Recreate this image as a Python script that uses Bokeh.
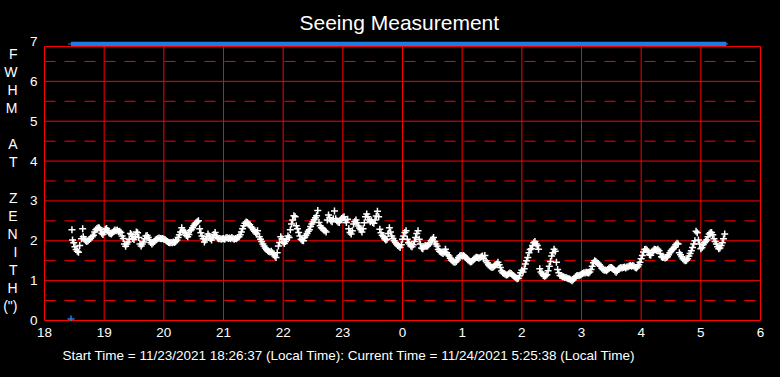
from bokeh.plotting import figure
from bokeh.models import Range1d, FixedTicker, LinearAxis, Title
from bokeh.embed import file_html
from bokeh.resources import INLINE

# ---------------- data ----------------
hour_ticks = [18, 19, 20, 21, 22, 23, 24, 25, 26, 27, 28, 29, 30]
hour_labels = ["18", "19", "20", "21", "22", "23", "0", "1", "2", "3", "4", "5", "6"]
fwhm_ticks = [0, 1, 2, 3, 4, 5, 6, 7]
fwhm_half = [0.5, 1.5, 2.5, 3.5, 4.5, 5.5, 6.5]

start_hour = 18.4436   # 18:26:37
end_hour = 29.4272     # 05:25:38 next day

hours = [
    18.46, 18.47, 18.49, 18.51, 18.53, 18.55, 18.57, 18.59, 18.62, 18.64, 18.65, 18.67, 18.69, 18.71,
    18.73, 18.75, 18.77, 18.80, 18.82, 18.84, 18.86, 18.88, 18.90, 18.92, 18.94, 18.96, 18.98, 19.00,
    19.02, 19.04, 19.06, 19.08, 19.10, 19.12, 19.14, 19.16, 19.18, 19.20, 19.22, 19.24, 19.26, 19.28,
    19.30, 19.32, 19.34, 19.36, 19.38, 19.40, 19.42, 19.44, 19.46, 19.48, 19.50, 19.52, 19.54, 19.56,
    19.58, 19.60, 19.62, 19.64, 19.66, 19.68, 19.70, 19.72, 19.74, 19.76, 19.78, 19.80, 19.82, 19.84,
    19.86, 19.88, 19.90, 19.92, 19.94, 19.96, 19.98, 20.00, 20.02, 20.04, 20.06, 20.08, 20.10, 20.12,
    20.14, 20.16, 20.18, 20.20, 20.22, 20.24, 20.26, 20.28, 20.30, 20.32, 20.34, 20.36, 20.38, 20.40,
    20.42, 20.44, 20.46, 20.48, 20.50, 20.52, 20.54, 20.56, 20.58, 20.60, 20.62, 20.64, 20.66, 20.68,
    20.70, 20.72, 20.74, 20.76, 20.78, 20.80, 20.82, 20.84, 20.86, 20.88, 20.90, 20.92, 20.94, 20.96,
    20.98, 21.00, 21.02, 21.04, 21.06, 21.08, 21.10, 21.12, 21.14, 21.16, 21.18, 21.20, 21.22, 21.24,
    21.26, 21.28, 21.30, 21.32, 21.34, 21.36, 21.38, 21.40, 21.42, 21.44, 21.46, 21.48, 21.50, 21.52,
    21.54, 21.56, 21.57, 21.60, 21.62, 21.64, 21.66, 21.68, 21.70, 21.72, 21.74, 21.76, 21.78, 21.80,
    21.82, 21.84, 21.86, 21.88, 21.90, 21.92, 21.94, 21.96, 21.98, 22.00, 22.02, 22.04, 22.06, 22.08,
    22.10, 22.12, 22.14, 22.16, 22.18, 22.20, 22.22, 22.24, 22.26, 22.28, 22.30, 22.32, 22.34, 22.36,
    22.38, 22.40, 22.42, 22.44, 22.46, 22.48, 22.50, 22.52, 22.54, 22.56, 22.58, 22.60, 22.62, 22.64,
    22.66, 22.68, 22.70, 22.72, 22.74, 22.76, 22.78, 22.80, 22.82, 22.84, 22.86, 22.88, 22.90, 22.92,
    22.94, 22.96, 22.98, 23.00, 23.02, 23.04, 23.06, 23.08, 23.10, 23.12, 23.14, 23.16, 23.18, 23.20,
    23.22, 23.24, 23.26, 23.28, 23.30, 23.32, 23.34, 23.36, 23.38, 23.40, 23.42, 23.44, 23.46, 23.48,
    23.50, 23.52, 23.54, 23.56, 23.58, 23.60, 23.62, 23.64, 23.66, 23.68, 23.70, 23.72, 23.74, 23.76,
    23.78, 23.80, 23.82, 23.84, 23.86, 23.88, 23.90, 23.92, 23.94, 23.96, 23.98, 24.00, 24.02, 24.04,
    24.06, 24.08, 24.10, 24.12, 24.14, 24.16, 24.18, 24.20, 24.22, 24.24, 24.26, 24.28, 24.30, 24.32,
    24.34, 24.36, 24.38, 24.40, 24.42, 24.44, 24.46, 24.48, 24.50, 24.52, 24.54, 24.56, 24.58, 24.60,
    24.62, 24.64, 24.66, 24.68, 24.70, 24.72, 24.74, 24.76, 24.78, 24.80, 24.82, 24.84, 24.86, 24.88,
    24.90, 24.92, 24.94, 24.96, 24.98, 25.00, 25.02, 25.04, 25.06, 25.08, 25.10, 25.12, 25.14, 25.16,
    25.18, 25.20, 25.22, 25.24, 25.26, 25.28, 25.30, 25.32, 25.34, 25.36, 25.38, 25.40, 25.42, 25.44,
    25.46, 25.48, 25.50, 25.52, 25.54, 25.56, 25.58, 25.60, 25.62, 25.64, 25.66, 25.68, 25.70, 25.72,
    25.74, 25.76, 25.78, 25.80, 25.82, 25.84, 25.86, 25.88, 25.90, 25.92, 25.94, 25.96, 25.98, 26.00,
    26.02, 26.04, 26.06, 26.08, 26.10, 26.12, 26.14, 26.16, 26.18, 26.20, 26.22, 26.24, 26.26, 26.28,
    26.30, 26.32, 26.34, 26.36, 26.38, 26.40, 26.42, 26.44, 26.46, 26.48, 26.50, 26.52, 26.54, 26.56,
    26.58, 26.60, 26.62, 26.64, 26.66, 26.68, 26.70, 26.72, 26.74, 26.76, 26.78, 26.80, 26.82, 26.84,
    26.86, 26.88, 26.90, 26.92, 26.94, 26.96, 26.98, 27.00, 27.02, 27.04, 27.06, 27.08, 27.10, 27.12,
    27.14, 27.16, 27.18, 27.20, 27.22, 27.24, 27.26, 27.28, 27.30, 27.32, 27.34, 27.36, 27.38, 27.40,
    27.42, 27.44, 27.46, 27.48, 27.50, 27.52, 27.54, 27.56, 27.58, 27.60, 27.62, 27.64, 27.66, 27.68,
    27.70, 27.72, 27.74, 27.76, 27.78, 27.80, 27.82, 27.84, 27.86, 27.88, 27.90, 27.92, 27.94, 27.96,
    27.98, 28.00, 28.02, 28.04, 28.06, 28.08, 28.10, 28.12, 28.14, 28.16, 28.18, 28.20, 28.22, 28.24,
    28.26, 28.28, 28.30, 28.32, 28.34, 28.36, 28.38, 28.40, 28.42, 28.44, 28.46, 28.48, 28.50, 28.52,
    28.54, 28.56, 28.58, 28.60, 28.62, 28.64, 28.66, 28.68, 28.70, 28.72, 28.74, 28.76, 28.78, 28.80,
    28.82, 28.84, 28.86, 28.88, 28.90, 28.92, 28.94, 28.96, 28.98, 29.00, 29.02, 29.04, 29.06, 29.08,
    29.10, 29.12, 29.14, 29.16, 29.18, 29.20, 29.22, 29.24, 29.26, 29.28, 29.30, 29.32, 29.34, 29.36,
    29.38, 29.40,
]

fwhm = [
    2.28, 2.02, 1.95, 1.85, 1.78, 1.74, 1.71, 1.88, 2.05, 2.30, 2.10, 2.04, 2.00, 1.98,
    2.00, 2.03, 2.06, 2.10, 2.14, 2.22, 2.28, 2.31, 2.33, 2.32, 2.28, 2.19, 2.16, 2.22,
    2.29, 2.31, 2.26, 2.20, 2.18, 2.17, 2.20, 2.24, 2.27, 2.25, 2.27, 2.23, 2.24, 2.21,
    2.12, 2.06, 1.92, 1.86, 1.92, 1.97, 2.04, 2.18, 2.15, 2.06, 2.03, 2.10, 2.22, 2.20,
    2.08, 1.92, 1.87, 1.92, 1.97, 2.05, 2.12, 2.13, 2.08, 2.02, 1.96, 1.92, 1.95, 1.98,
    2.02, 2.04, 2.06, 2.07, 2.06, 2.05, 2.06, 2.04, 2.03, 2.00, 1.98, 1.96, 1.95, 1.96,
    1.95, 1.97, 1.96, 1.98, 2.02, 2.08, 2.15, 2.22, 2.33, 2.26, 2.22, 2.20, 2.13, 2.10,
    2.16, 2.25, 2.28, 2.33, 2.38, 2.42, 2.45, 2.48, 2.50, 2.30, 2.20, 2.12, 2.05, 1.97,
    2.02, 2.10, 2.17, 2.12, 2.06, 2.02, 2.08, 2.16, 2.21, 2.12, 2.07, 2.05, 2.06, 2.04,
    2.05, 2.06, 2.04, 2.07, 2.08, 2.06, 2.07, 2.05, 2.08, 2.06, 2.04, 2.06, 2.05, 2.08,
    2.10, 2.15, 2.22, 2.30, 2.38, 2.44, 2.47, 2.46, 2.43, 2.40, 2.35, 2.32, 2.28, 2.24,
    2.20, 2.17, 2.25, 2.10, 2.04, 1.98, 1.92, 1.87, 1.82, 1.78, 1.75, 1.73, 1.72, 1.74,
    1.70, 1.66, 1.62, 1.58, 1.70, 1.87, 1.96, 2.10, 2.05, 1.97, 1.93, 1.98, 2.04, 2.12,
    2.08, 2.28, 2.42, 2.52, 2.63, 2.60, 2.38, 2.30, 2.21, 2.12, 2.04, 2.01, 2.00, 2.08,
    2.13, 2.18, 2.24, 2.28, 2.36, 2.42, 2.47, 2.53, 2.58, 2.63, 2.76, 2.46, 2.38, 2.33,
    2.30, 2.27, 2.25, 2.22, 2.52, 2.65, 2.58, 2.50, 2.48, 2.55, 2.75, 2.55, 2.50, 2.47,
    2.46, 2.52, 2.56, 2.58, 2.60, 2.52, 2.46, 2.54, 2.30, 2.21, 2.17, 2.25, 2.42, 2.48,
    2.52, 2.45, 2.37, 2.32, 2.28, 2.22, 2.30, 2.45, 2.60, 2.67, 2.60, 2.52, 2.48, 2.50,
    2.46, 2.44, 2.52, 2.62, 2.74, 2.60, 2.29, 2.20, 2.14, 2.10, 2.05, 2.02, 2.04, 2.18,
    2.33, 2.22, 2.12, 2.06, 2.00, 1.96, 1.92, 1.88, 1.86, 1.83, 1.90, 2.04, 2.12, 2.21,
    2.25, 2.04, 1.95, 1.92, 1.87, 1.85, 1.90, 1.98, 2.08, 2.18, 2.25, 2.04, 1.92, 1.82,
    1.80, 1.85, 1.88, 1.86, 1.87, 1.90, 1.95, 2.00, 2.04, 2.08, 1.98, 1.92, 1.87, 1.78,
    1.74, 1.72, 1.70, 1.68, 1.72, 1.79, 1.70, 1.65, 1.62, 1.56, 1.52, 1.49, 1.47, 1.46,
    1.48, 1.52, 1.58, 1.62, 1.63, 1.62, 1.63, 1.61, 1.58, 1.55, 1.52, 1.49, 1.47, 1.48,
    1.51, 1.54, 1.57, 1.59, 1.58, 1.56, 1.58, 1.60, 1.62, 1.55, 1.63, 1.50, 1.45, 1.40,
    1.37, 1.35, 1.33, 1.34, 1.37, 1.39, 1.42, 1.46, 1.40, 1.33, 1.24, 1.20, 1.18, 1.16,
    1.14, 1.15, 1.17, 1.19, 1.18, 1.15, 1.12, 1.10, 1.07, 1.05, 1.06, 1.12, 1.20, 1.26,
    1.22, 1.30, 1.42, 1.50, 1.58, 1.70, 1.78, 1.80, 1.88, 1.95, 1.98, 1.92, 1.88, 1.79,
    1.30, 1.22, 1.17, 1.13, 1.11, 1.12, 1.15, 1.25, 1.36, 1.48, 1.62, 1.70, 1.79, 1.74,
    1.46, 1.28, 1.20, 1.13, 1.12, 1.10, 1.10, 1.08, 1.08, 1.06, 1.05, 1.04, 1.02, 1.00,
    1.02, 1.06, 1.10, 1.12, 1.13, 1.12, 1.14, 1.16, 1.18, 1.20, 1.19, 1.21, 1.20, 1.19,
    1.22, 1.28, 1.36, 1.45, 1.50, 1.48, 1.45, 1.43, 1.40, 1.36, 1.31, 1.28, 1.26, 1.27,
    1.25, 1.28, 1.31, 1.33, 1.33, 1.31, 1.28, 1.24, 1.21, 1.25, 1.29, 1.31, 1.33, 1.32,
    1.33, 1.34, 1.32, 1.34, 1.35, 1.37, 1.38, 1.36, 1.38, 1.36, 1.33, 1.32, 1.35, 1.40,
    1.46, 1.55, 1.63, 1.72, 1.78, 1.79, 1.76, 1.72, 1.65, 1.64, 1.70, 1.75, 1.79, 1.78,
    1.76, 1.79, 1.75, 1.68, 1.60, 1.58, 1.59, 1.57, 1.58, 1.60, 1.65, 1.70, 1.75, 1.79,
    1.80, 1.84, 1.90, 1.94, 1.92, 1.70, 1.65, 1.60, 1.55, 1.52, 1.50, 1.51, 1.55, 1.62,
    1.68, 1.75, 1.83, 1.92, 2.00, 2.24, 2.20, 2.02, 1.92, 1.80, 1.83, 1.90, 1.96, 1.98,
    2.02, 2.10, 2.17, 2.20, 2.21, 2.15, 2.05, 1.98, 1.92, 1.85, 1.80, 1.82, 1.88, 1.95,
    2.05, 2.17,
]

first_hour = [18.444]
first_fwhm = [0.04]

title_text = "Seeing Measurement"
ylabel_letters = ["F", "W", "H", "M", "A", "T", "Z", "E", "N", "I", "T", "H", '(")']
ylabel_rows = [0, 1, 2, 3, 5, 6, 8, 9, 10, 11, 12, 13, 14]
footer_text = "Start Time = 11/23/2021 18:26:37 (Local Time): Current Time = 11/24/2021 5:25:38 (Local Time)"

# ---------------- layout / style ----------------
W, H = 780, 377
L, T = 39, 40
FRAME_W, FRAME_H = 722, 281
PX_X, PX_Y = 60.0, 40.0          # pixels per hour / per arcsec
x0 = 18 - 1.0 / PX_X
x1 = x0 + FRAME_W / PX_X
y0 = -1.0 / PX_Y
y1 = y0 + FRAME_H / PX_Y
frame_top = 6.875
RED = "#FF0000"
BLUE = "#1A7FE8"
FONT = "Liberation Sans"


def vy(cy):
    return y1 - (cy - T) / PX_Y


p = figure(width=W, height=H, output_backend="svg", toolbar_location=None,
           title=title_text,
           x_range=Range1d(x0, x1), y_range=Range1d(y0, y1),
           min_border_left=L, min_border_right=W - L - FRAME_W,
           min_border_top=T, min_border_bottom=H - T - FRAME_H,
           background_fill_color="black", border_fill_color="black",
           outline_line_color=None)
p.grid.visible = False

p.title.align = "left"
p.title.offset = 256
p.title.text_color = "white"
p.title.text_font = FONT
p.title.text_font_size = "21px"
p.title.text_font_style = "normal"
p.title.standoff = 16


def style_axis(ax, size):
    ax.axis_line_color = None
    ax.major_tick_line_color = None
    ax.minor_tick_line_color = None
    ax.major_tick_out = 0
    ax.major_tick_in = 0
    ax.minor_tick_out = 0
    ax.minor_tick_in = 0
    ax.major_label_text_color = "white"
    ax.major_label_text_font = FONT
    ax.major_label_text_font_size = size


style_axis(p.xaxis[0], "13.5px")
style_axis(p.yaxis[0], "13.5px")
p.xaxis.ticker = FixedTicker(ticks=hour_ticks)
p.xaxis.major_label_overrides = {t: lab for t, lab in zip(hour_ticks, hour_labels)}
p.xaxis.major_label_standoff = 6
p.yaxis.ticker = FixedTicker(ticks=fwhm_ticks)
p.yaxis.major_label_standoff = 6

# stacked letters of the y title, as an outer axis
letter_pos = [vy(53 + 18 * r) for r in ylabel_rows]
letter_axis = LinearAxis(ticker=FixedTicker(ticks=letter_pos),
                         major_label_overrides={pos: ch for pos, ch in zip(letter_pos, ylabel_letters)})
style_axis(letter_axis, "14px")
letter_axis.major_label_standoff = 9
p.add_layout(letter_axis, "left")

# footer text
footer = Title(text=footer_text, align="left", offset=19, text_color="white", text_font=FONT,
               text_font_size="13.5px", text_font_style="normal", standoff=12)
p.add_layout(footer, "below")

# observation span bar (drawn before the red frame)
p.quad(left=[start_hour], right=[end_hour], bottom=[vy(45)], top=[vy(40)],
       fill_color=BLUE, line_color=None)
p.segment(x0=[start_hour - 0.05], x1=[end_hour + 0.03], y0=[vy(42.5)], y1=[vy(42.5)],
          line_color=BLUE, line_width=1)

# grid: solid integer lines, dashed half lines, vertical hour lines
int_lines = fwhm_ticks[:-1]
p.segment(x0=[hour_ticks[0]] * len(int_lines), x1=[hour_ticks[-1]] * len(int_lines),
          y0=int_lines, y1=int_lines, line_color=RED, line_width=1)
p.segment(x0=[hour_ticks[0]] * len(fwhm_half), x1=[hour_ticks[-1]] * len(fwhm_half),
          y0=fwhm_half, y1=fwhm_half, line_color=RED, line_width=1, line_dash="11 9")
p.segment(x0=hour_ticks, x1=hour_ticks, y0=[0] * len(hour_ticks), y1=[frame_top] * len(hour_ticks),
          line_color=RED, line_width=1)
p.segment(x0=[hour_ticks[0]], x1=[hour_ticks[-1]], y0=[frame_top], y1=[frame_top],
          line_color=RED, line_width=1)

# measurements
p.scatter(hours, fwhm, marker="cross", size=7, line_color="white", line_width=1.5)
p.scatter(first_hour, first_fwhm, marker="cross", size=7, line_color=BLUE, line_width=1.5)

html = file_html(p, INLINE)
html = html.replace("</head>",
                    "<style>html,body{margin:0;padding:0;background:#000000;overflow:hidden;}</style></head>", 1)
open("out.html", "w").write(html)
